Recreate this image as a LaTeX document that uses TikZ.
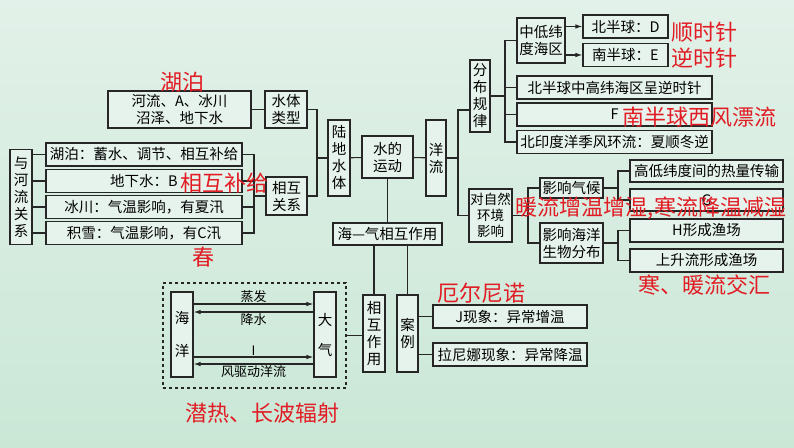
\documentclass[tikz,border=0pt]{standalone}
\usepackage{fontspec}
\setmainfont{Noto Sans CJK SC}
\usetikzlibrary{arrows.meta,positioning}

\definecolor{bgtop}{RGB}{226,241,233}
\definecolor{bgbot}{RGB}{202,231,214}
\definecolor{boxfill}{RGB}{230,243,236}
\definecolor{notered}{RGB}{226,28,36}

\tikzset{
  box/.style={draw=black!85, line width=1.1pt, fill=boxfill, inner sep=0pt, align=center,
    font=\fontsize{14.5}{17}\selectfont},
  vbox/.style={box, text width=15pt},
  note/.style={text=notered, inner sep=0pt, font=\fontsize{22}{22}\selectfont},
  link/.style={draw=black!85, line width=1.1pt},
  lbl/.style={inner sep=1pt, font=\fontsize{13}{14}\selectfont},
}

\begin{document}
\begin{tikzpicture}[x=1pt, y=-1pt]

  \shade[top color=bgtop, bottom color=bgbot] (0,0) rectangle (794,447);
  \useasboundingbox (0,0) rectangle (794,447);

  % Define nodes
  \node[box, minimum width=143pt, minimum height=37pt] (types) at (179.5,109.5) {河流、A、冰川\\沼泽、地下水};
  \node[box, minimum width=42pt, minimum height=37pt]  (tixing) at (286,109.5) {水体\\类型};
  \node[box, minimum width=41pt, minimum height=38pt]  (guanxi) at (286.5,196) {相互\\关系};
  \node[vbox, minimum width=22pt, minimum height=95pt] (yuhe) at (21,197) {与\\河\\流\\关\\系};
  \node[box, minimum width=196pt, minimum height=23pt] (hupo) at (144,154.5) {湖泊：蓄水、调节、相互补给};
  \node[box, minimum width=196pt, minimum height=23pt] (dixia) at (144,181) {地下水：B};
  \node[box, minimum width=196pt, minimum height=23pt] (bingchuan) at (144,207) {冰川：气温影响，有夏汛};
  \node[box, minimum width=196pt, minimum height=23pt] (jixue) at (144,233) {积雪：气温影响，有C汛};

  \node[vbox, minimum width=22pt, minimum height=76pt] (ludi) at (339,158) {陆\\地\\水\\体};
  \node[box, minimum width=51pt, minimum height=42pt]  (yundong) at (387.5,157) {水的\\运动};
  \node[vbox, minimum width=20pt, minimum height=76pt] (yangliu) at (436,158) {洋\\流};

  \node[vbox, minimum width=20pt, minimum height=72pt] (fenbu) at (480,96) {分\\布\\规\\律};
  \node[box, minimum width=48pt, minimum height=45pt]  (zhongdi) at (541,40.5) {中低纬\\度海区};
  \node[box, minimum width=85pt, minimum height=23pt]  (beiban) at (625.5,26.5) {北半球：D};
  \node[box, minimum width=85pt, minimum height=23pt]  (nanban) at (625.5,55) {南半球：E};
  \node[box, minimum width=195pt, minimum height=23pt] (zhonggao) at (614.5,87.5) {北半球中高纬海区呈逆时针};
  \node[box, minimum width=195pt, minimum height=23pt] (fbox) at (614.5,114.5) {F};
  \node[box, minimum width=195pt, minimum height=23pt] (beiyin) at (614.5,142) {北印度洋季风环流：夏顺冬逆};

  \node[box, minimum width=43pt, minimum height=53pt, font=\fontsize{13.5}{16}\selectfont] (ziran) at (490.5,215.5) {对自然\\环境\\影响};
  \node[box, minimum width=63pt, minimum height=20pt]  (qihou) at (571.5,188) {影响气候};
  \node[box, minimum width=63pt, minimum height=40pt]  (shengwu) at (571.5,243) {影响海洋\\生物分布};
  \node[box, minimum width=153pt, minimum height=22pt] (relian) at (706.5,171) {高低纬度间的热量传输};
  \node[box, minimum width=153pt, minimum height=22pt] (gbox) at (706.5,200) {G};
  \node[box, minimum width=153pt, minimum height=23pt] (hbox) at (706.5,230.5) {H形成渔场};
  \node[box, minimum width=153pt, minimum height=23pt] (shengliu) at (706.5,260.5) {上升流形成渔场};

  \node[box, minimum width=109pt, minimum height=22pt] (haiqi) at (387.5,234) {海—气相互作用};
  \node[vbox, minimum width=22pt, minimum height=77pt] (xianghu) at (374,333.5) {相\\互\\作\\用};
  \node[vbox, minimum width=21pt, minimum height=77pt] (anli) at (407.5,333.5) {案\\例};
  \node[box, minimum width=154pt, minimum height=23pt] (elnino) at (510,316.5) {J现象：异常增温};
  \node[box, minimum width=154pt, minimum height=23pt] (lanina) at (510,354.5) {拉尼娜现象：异常降温};

  \node[draw=black!85, dashed, line width=1.1pt, minimum width=183pt, minimum height=105pt] (frame) at (254.5,335.5) {};
  \node[vbox, minimum width=22pt, minimum height=85pt, font=\fontsize{14.5}{33}\selectfont] (haiyang) at (182,334.5) {海\\洋};
  \node[vbox, minimum width=22pt, minimum height=85pt, font=\fontsize{14.5}{30}\selectfont] (daqi) at (325,334.5) {大\\气};

  % Junctions
  \coordinate (jRel) at (254,196);
  \coordinate (jLand) at (317,158);
  \coordinate (jTop) at (458,110);
  \coordinate (jBot) at (458,215.5);
  \coordinate (jDist) at (505,96);
  \coordinate (jEnv) at (528,215.5);
  \coordinate (jClim) at (618,188);
  \coordinate (jBio) at (618,243);

  % Connect the nodes
  \draw[link] (types) -- (tixing);
  \foreach \n in {hupo,dixia,bingchuan,jixue}{
    \draw[link] (yuhe.east |- \n) -- (\n.west);
    \draw[link] (\n.east) -| (jRel);
  }
  \draw[link] (jRel) -- (guanxi.west);
  \draw[link] (tixing.east) -| (jLand);
  \draw[link] (guanxi.east) -| (jLand);
  \draw[link] (jLand) -- (ludi.west);
  \draw[link] (ludi) -- (yundong);
  \draw[link] (yundong) -- (yangliu);

  \draw[link] (yangliu.east) -- (yangliu.east -| jTop);
  \draw[link] (fenbu.west |- jTop) -- (jTop) -- (jBot) -- (ziran.west |- jBot);

  \draw[link] (fenbu.east |- jDist) -- (jDist);
  \foreach \n in {zhongdi,zhonggao,fbox,beiyin}
    \draw[link] (jDist) |- (\n.west);
  \draw[link,-{Latex[length=7pt,width=4.5pt]}] (zhongdi.east |- beiban) -- (beiban.west);
  \draw[link,-{Latex[length=7pt,width=4.5pt]}] (zhongdi.east |- nanban) -- (nanban.west);

  \draw[link] (ziran.east |- jEnv) -- (jEnv);
  \draw[link] (jEnv) |- (qihou.west);
  \draw[link] (jEnv) |- (shengwu.west);
  \draw[link] (qihou.east) -- (jClim);
  \draw[link] (jClim) |- (relian.west);
  \draw[link] (jClim) |- (gbox.west);
  \draw[link] (shengwu.east) -- (jBio);
  \draw[link] (jBio) |- (hbox.west);
  \draw[link] (jBio) |- (shengliu.west);

  \draw[link] (yundong) -- (haiqi);
  \draw[link] (xianghu.north |- haiqi.south) -- (xianghu.north);
  \draw[link] (anli.north |- haiqi.south) -- (anli.north);
  \draw[link] (frame.east) -- (frame.east -| xianghu.west);
  \draw[link] (anli.east |- elnino) -- (elnino.west);
  \draw[link] (anli.east |- lanina) -- (lanina.west);

  \draw[link,-{Latex[length=7pt,width=4.5pt]}] (haiyang.east |- 0,304) -- (daqi.west |- 0,304)
    node[midway, above, lbl] {蒸发};
  \draw[link,-{Latex[length=7pt,width=4.5pt]}] (daqi.west |- 0,312) -- (haiyang.east |- 0,312)
    node[midway, below, lbl] {降水};
  \draw[link,-{Latex[length=7pt,width=4.5pt]}] (haiyang.east |- 0,357) -- (daqi.west |- 0,357)
    node[midway, above, lbl] {I};
  \draw[link,-{Latex[length=7pt,width=4.5pt]}] (daqi.west |- 0,364) -- (haiyang.east |- 0,364)
    node[midway, below, lbl] {风驱动洋流};

  % Answers in red
  \node[note] (nHupo) at (182,82) {湖泊};
  \node[note] (nBuji) at (224,183) {相互补给};
  \node[note] (nChun) at (203,257) {春};
  \node[note] (nShun) at (704,32) {顺时针};
  \node[note] (nNi) at (704,58) {逆时针};
  \node[note] (nXifeng) at (699,117) {南半球西风漂流};
  \node[note] (nNuan) at (651,208) {暖流增温增湿,寒流降温减湿};
  \node[note] (nHan) at (704,285) {寒、暖流交汇};
  \node[note] (nEl) at (481,293) {厄尔尼诺};
  \node[note] (nQian) at (262,413) {潜热、长波辐射};

\end{tikzpicture}
\end{document}
